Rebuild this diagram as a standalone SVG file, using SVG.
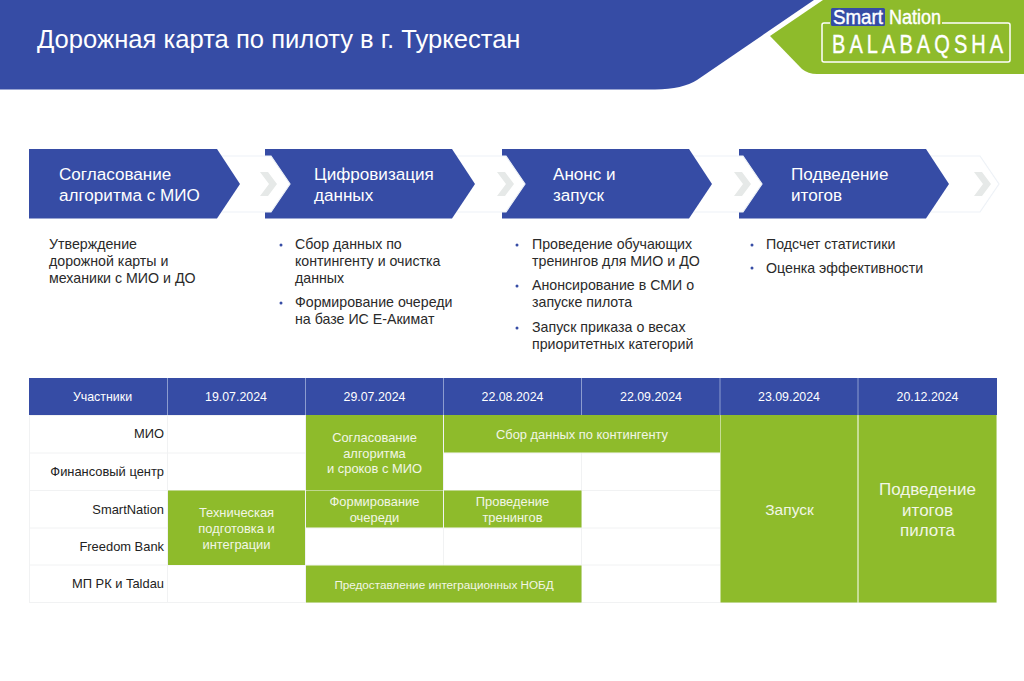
<svg xmlns="http://www.w3.org/2000/svg" width="1024" height="681" viewBox="0 0 1024 681">
<style>
text{font-family:"Liberation Sans",Arial,sans-serif}
.w{fill:#fff}.b{fill:#364ca5}.g{fill:#8ebb2b}
.cw{fill:#fff;stroke:#eef2f7;stroke-width:1.2}
.mk{fill:#e6e9e8}
.st{font-size:17.1px;fill:#fff}
.bd{font-size:14.2px;fill:#2a2a2a}
.dot{fill:#364ca5}
.h{font-size:12.4px;fill:#fff;text-anchor:middle}
.l{font-size:12.9px;fill:#222;text-anchor:end}
.c{font-size:12.9px;fill:#f2f6e6;text-anchor:middle}
.ln{stroke:#f1f2f3;stroke-width:1;fill:none}
.logo{fill:#fff;stroke:#fff;stroke-width:.4}
</style>
<rect width="1024" height="681" fill="#fff"/>
<g id="banner">
<path class="b" d="M0 0H814L697 80Q683 89 655 89.500H0Z"/>
<path class="g" d="M823 0H1024V74H817Q808 74 802 69L770 36Z"/>
<text x="37" y="47.500" font-size="25.600" fill="#fff">Дорожная карта по пилоту в г. Туркестан</text>
</g>
<g id="logo">
<rect x="831" y="8" width="54" height="18" rx="1.500" fill="#364ca5"/>
<text class="logo" x="833" y="23.500" font-size="19.500" textLength="50" lengthAdjust="spacingAndGlyphs">Smart</text>
<text class="logo" x="889" y="23.500" font-size="19.500" textLength="52" lengthAdjust="spacingAndGlyphs">Nation</text>
<path d="M942 23H1008Q1010 23 1010 25V60Q1010 62 1008 62H824Q822 62 822 60V25Q822 23 824 23H830" fill="none" stroke="#fff" stroke-width="1.500"/>
<text class="logo" transform="translate(832 53) scale(.8 1)" font-size="25" letter-spacing="5.100">BALABAQSHA</text>
</g>
<g id="step4">
<path class="cw" d="M926 156H980L999 184L980 212H926Z"/>
<path class="mk" d="M974 172H982L991 184L982 196H974L983 184Z"/>
<path class="b" d="M739 149H926L949 184L926 218.500H739Z"/>
<text class="st" x="791" y="180">Подведение</text>
<text class="st" x="791" y="201">итогов</text>
</g>
<g id="step3">
<path class="cw" d="M689 156H743L762 184L743 212H689Z"/>
<path class="mk" d="M734 172H742L751 184L742 196H734L743 184Z"/>
<path class="b" d="M502 149H689L712 184L689 218.500H502Z"/>
<text class="st" x="553" y="180">Анонс и</text>
<text class="st" x="553" y="201">запуск</text>
</g>
<g id="step2">
<path class="cw" d="M452 156H506L525 184L506 212H452Z"/>
<path class="mk" d="M497 172H505L514 184L505 196H497L506 184Z"/>
<path class="b" d="M265 149H452L475 184L452 218.500H265Z"/>
<text class="st" x="314" y="180">Цифровизация</text>
<text class="st" x="314" y="201">данных</text>
</g>
<g id="step1">
<path class="cw" d="M217 156H271L290 184L271 212H217Z"/>
<path class="mk" d="M260 172H268L277 184L268 196H260L269 184Z"/>
<path class="b" d="M29 149H217L240 184L217 218.500H29Z"/>
<text class="st" x="59" y="180">Согласование</text>
<text class="st" x="59" y="201">алгоритма с МИО</text>
</g>
<g id="desc1">
<text class="bd" x="49" y="249">Утверждение</text>
<text class="bd" x="49" y="266">дорожной карты и</text>
<text class="bd" x="49" y="283">механики с МИО и ДО</text>
</g>
<g id="desc2">
<circle class="dot" cx="281" cy="245" r="1.500"/>
<text class="bd" x="295" y="249">Сбор данных по</text>
<text class="bd" x="295" y="266">контингенту и очистка</text>
<text class="bd" x="295" y="283">данных</text>
<circle class="dot" cx="281" cy="303" r="1.500"/>
<text class="bd" x="295" y="307">Формирование очереди</text>
<text class="bd" x="295" y="324">на базе ИС Е-Акимат</text>
</g>
<g id="desc3">
<circle class="dot" cx="517" cy="245" r="1.500"/>
<text class="bd" x="532" y="249">Проведение обучающих</text>
<text class="bd" x="532" y="266">тренингов для МИО и ДО</text>
<circle class="dot" cx="517" cy="286" r="1.500"/>
<text class="bd" x="532" y="290">Анонсирование в СМИ о</text>
<text class="bd" x="532" y="307">запуске пилота</text>
<circle class="dot" cx="517" cy="328" r="1.500"/>
<text class="bd" x="532" y="332">Запуск приказа о весах</text>
<text class="bd" x="532" y="349">приоритетных категорий</text>
</g>
<g id="desc4">
<circle class="dot" cx="752" cy="245" r="1.500"/>
<text class="bd" x="766" y="249">Подсчет статистики</text>
<circle class="dot" cx="752" cy="268" r="1.500"/>
<text class="bd" x="766" y="273">Оценка эффективности</text>
</g>
<g id="table-grid">
<rect class="ln" x="29.500" y="415.500" width="967" height="187"/>
<path class="ln" d="M29.500 453H720M29.500 490.500H720M29.500 528H720M29.500 565H720M167.500 415V602M305.500 415V602M443.500 415V602M581.500 415V602"/>
</g>
<g id="table-header">
<rect class="b" x="29" y="378" width="968" height="37"/>
<path d="M167.500 378V415M305.500 378V415M443.500 378V415M581.500 378V415M720 378V415M858 378V415" stroke="#8c9ccf" stroke-width="1" fill="none"/>
<text class="h" x="102.500" y="401">Участники</text>
<text class="h" x="236" y="401">19.07.2024</text>
<text class="h" x="374.500" y="401">29.07.2024</text>
<text class="h" x="512.500" y="401">22.08.2024</text>
<text class="h" x="651" y="401">22.09.2024</text>
<text class="h" x="789" y="401">23.09.2024</text>
<text class="h" x="927.500" y="401">20.12.2024</text>
</g>
<g id="table-labels">
<text class="l" x="164" y="438">МИО</text>
<text class="l" x="164" y="476">Финансовый центр</text>
<text class="l" x="164" y="513.500">SmartNation</text>
<text class="l" x="164" y="551">Freedom Bank</text>
<text class="l" x="164" y="588">МП РК и Taldau</text>
</g>
<g id="bar-soglasovanie">
<rect class="g" x="306" y="415" width="137" height="75"/>
<text class="c" x="374.500" y="442">Согласование</text>
<text class="c" x="374.500" y="458">алгоритма</text>
<text class="c" x="374.500" y="473">и сроков с МИО</text>
</g>
<g id="bar-sbor">
<rect class="g" x="444" y="415" width="276" height="37.500"/>
<text class="c" x="582" y="439">Сбор данных по контингенту</text>
</g>
<g id="bar-tech">
<rect class="g" x="168" y="490.500" width="137" height="74.500"/>
<text class="c" x="236.500" y="517">Техническая</text>
<text class="c" x="236.500" y="533">подготовка и</text>
<text class="c" x="236.500" y="549">интеграции</text>
</g>
<g id="bar-ochered">
<rect class="g" x="306" y="490.500" width="137" height="37"/>
<text class="c" x="374.500" y="506">Формирование</text>
<text class="c" x="374.500" y="522">очереди</text>
</g>
<g id="bar-treningi">
<rect class="g" x="444" y="490.500" width="137.500" height="37"/>
<text class="c" x="512.500" y="506">Проведение</text>
<text class="c" x="512.500" y="522">тренингов</text>
</g>
<g id="bar-nobd">
<rect class="g" x="306" y="565.500" width="275.500" height="37"/>
<text class="c" x="444" y="589" style="font-size:11.700px">Предоставление интеграционных НОБД</text>
</g>
<g id="bar-zapusk">
<rect class="g" x="720.500" y="415" width="137" height="187.500"/>
<text x="789.500" y="514.500" font-size="15.500" fill="#f2f6e6" text-anchor="middle">Запуск</text>
</g>
<g id="bar-itogi">
<rect class="g" x="858.500" y="415" width="138" height="187.500"/>
<text x="927.500" y="495" font-size="17" fill="#f2f6e6" text-anchor="middle">Подведение</text>
<text x="927.500" y="515.500" font-size="17" fill="#f2f6e6" text-anchor="middle">итогов</text>
<text x="927.500" y="536" font-size="17" fill="#f2f6e6" text-anchor="middle">пилота</text>
</g>
</svg>
